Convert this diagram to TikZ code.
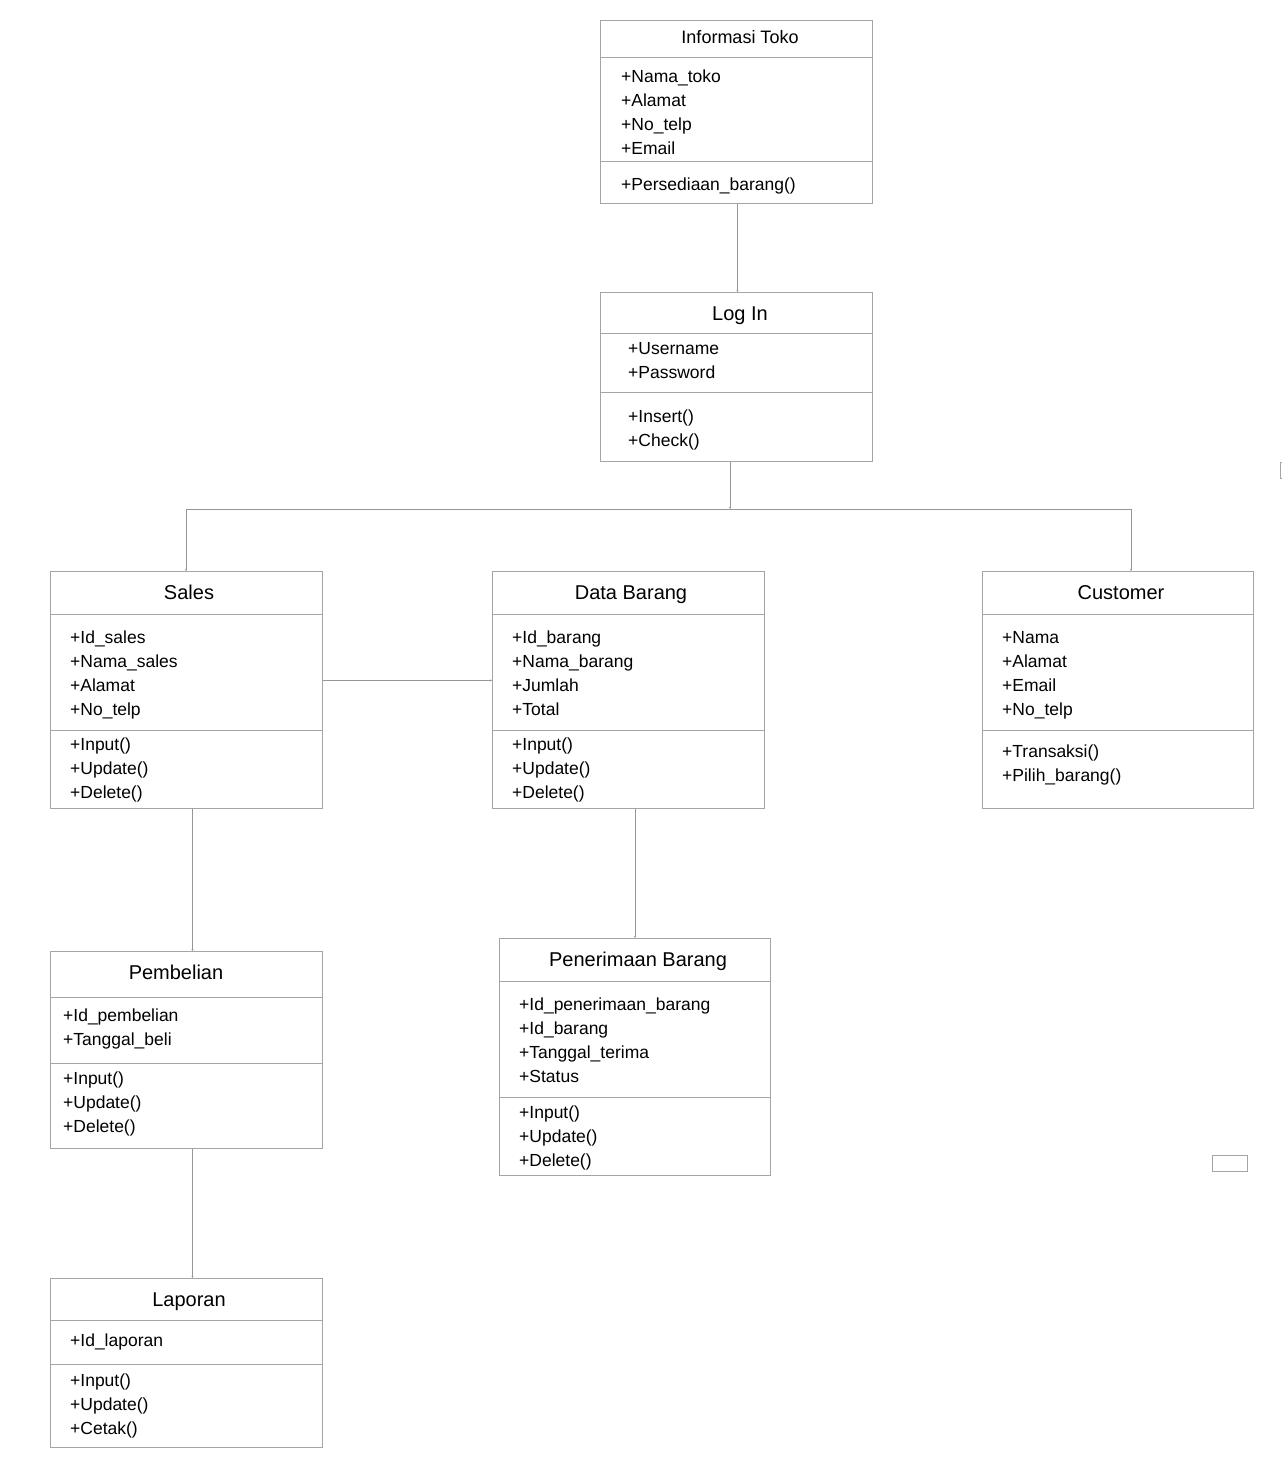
\documentclass[tikz,border=0pt]{standalone}
\usepackage{fontspec}
\setmainfont{Liberation Sans}
\usetikzlibrary{arrows.meta}
\definecolor{boxgray}{RGB}{165,165,165}
\definecolor{linkgray}{RGB}{150,150,150}
\tikzset{
  classbox/.style={draw=boxgray, line width=0.9pt, anchor=north west, inner sep=0pt, minimum width=272pt},
  classtitle/.style={font=\fontsize{20}{24}\selectfont, anchor=base, inner sep=0pt},
  members/.style={font=\fontsize{17.5}{24}\selectfont, align=left, anchor=base west, inner sep=0pt},
  sep/.style={draw=boxgray, line width=0.9pt},
  link/.style={draw=linkgray, line width=0.8pt, -{Stealth[length=2pt,width=2pt]}},
}
\begin{document}
\begin{tikzpicture}[x=1pt, y=-1pt]
        \useasboundingbox (0,0) rectangle (1282,1476);

        % Class boxes
        \node (info) [classbox, minimum height=183pt] at (600,20) {};
        \node (login) [classbox, minimum height=169pt] at (600,292) {};
        \node (sales) [classbox, minimum height=237pt] at (50,571) {};
        \node (data) [classbox, minimum height=237pt] at (492,571) {};
        \node (cust) [classbox, minimum height=237pt, minimum width=271pt] at (982,571) {};
        \node (beli) [classbox, minimum height=197pt] at (50,951) {};
        \node (terima) [classbox, minimum height=237pt, minimum width=271pt] at (499,938) {};
        \node (lapor) [classbox, minimum height=169pt] at (50,1278) {};

        % Separators
        \draw[sep] (600,57) -- (872,57);
        \draw[sep] (600,161) -- (872,161);
        \draw[sep] (600,333) -- (872,333);
        \draw[sep] (600,392) -- (872,392);
        \draw[sep] (50,614) -- (322,614);
        \draw[sep] (50,730) -- (322,730);
        \draw[sep] (492,614) -- (764,614);
        \draw[sep] (492,730) -- (764,730);
        \draw[sep] (982,614) -- (1253,614);
        \draw[sep] (982,730) -- (1253,730);
        \draw[sep] (50,997) -- (322,997);
        \draw[sep] (50,1063) -- (322,1063);
        \draw[sep] (499,981) -- (770,981);
        \draw[sep] (499,1097) -- (770,1097);
        \draw[sep] (50,1320) -- (322,1320);
        \draw[sep] (50,1364) -- (322,1364);

        % Titles
        \node (infoT) [classtitle, font=\fontsize{18}{22}\selectfont] at (740,43.5) {Informasi Toko};
        \node (loginT) [classtitle] at (740,320) {Log In};
        \node (salesT) [classtitle] at (189,599) {Sales};
        \node (dataT) [classtitle] at (631,599) {Data Barang};
        \node (custT) [classtitle] at (1121,599) {Customer};
        \node (beliT) [classtitle] at (176,979) {Pembelian};
        \node (terimaT) [classtitle] at (638,966) {Penerimaan Barang};
        \node (laporT) [classtitle] at (189,1306) {Laporan};

        % Attributes and operations (placed at the last baseline)
        \node (infoA) [members] at (621,154) {+Nama\_toko\\+Alamat\\+No\_telp\\+Email};
        \node (infoM) [members] at (621,190) {+Persediaan\_barang()};
        \node (loginA) [members] at (628,378) {+Username\\+Password};
        \node (loginM) [members] at (628,446) {+Insert()\\+Check()};
        \node (salesA) [members] at (70,715) {+Id\_sales\\+Nama\_sales\\+Alamat\\+No\_telp};
        \node (salesM) [members] at (70,798) {+Input()\\+Update()\\+Delete()};
        \node (dataA) [members] at (512,715) {+Id\_barang\\+Nama\_barang\\+Jumlah\\+Total};
        \node (dataM) [members] at (512,798) {+Input()\\+Update()\\+Delete()};
        \node (custA) [members] at (1002,715) {+Nama\\+Alamat\\+Email\\+No\_telp};
        \node (custM) [members] at (1002,781) {+Transaksi()\\+Pilih\_barang()};
        \node (beliA) [members] at (63,1045) {+Id\_pembelian\\+Tanggal\_beli};
        \node (beliM) [members] at (63,1132) {+Input()\\+Update()\\+Delete()};
        \node (terimaA) [members] at (519,1082) {+Id\_penerimaan\_barang\\+Id\_barang\\+Tanggal\_terima\\+Status};
        \node (terimaM) [members] at (519,1166) {+Input()\\+Update()\\+Delete()};
        \node (laporA) [members] at (70,1346) {+Id\_laporan};
        \node (laporM) [members] at (70,1434) {+Input()\\+Update()\\+Cetak()};

        % Bus points
        \coordinate (bus) at (730,509);
        \coordinate (busL) at (186,509);
        \coordinate (busR) at (1131,509);

        % Edges
        \draw[link] ([xshift=1pt]info.south) -- ([xshift=1pt]login.north);
        \draw[link] (login.south -| bus) -- (bus);
        \draw[draw=linkgray, line width=0.8pt] (busL) -- (busR);
        \draw[link] (busL) -- (busL |- sales.north);
        \draw[link] (busR) -- (busR |- cust.north);
        \draw[link] ([yshift=9.5pt]sales.east) -- ([yshift=9.5pt]data.west);
        \draw[link] ([xshift=6pt]sales.south) -- ([xshift=6pt]beli.north);
        \draw[link] (terima.north |- data.south) -- (terima.north);
        \draw[link] ([xshift=6pt]beli.south) -- ([xshift=6pt]lapor.north);

        % Stray shapes
        \draw[sep] (1212,1155) rectangle (1247,1171);
        \draw[sep] (1280,462) rectangle (1300,478);
    \end{tikzpicture}
\end{document}
